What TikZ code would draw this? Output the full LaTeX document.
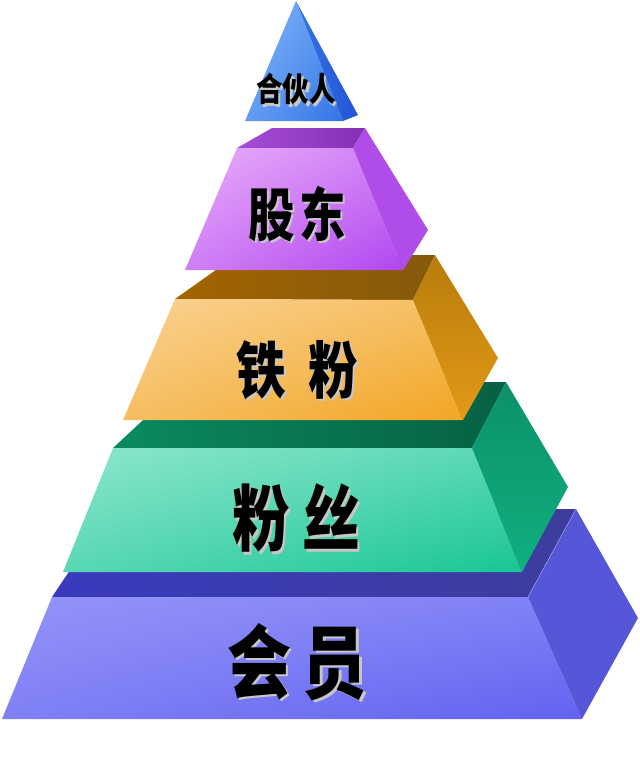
\documentclass[tikz,border=0pt]{standalone}
\usepackage{fontspec}
\usepackage{graphicx}
\usepackage{tikz}
\usetikzlibrary{shadings}
\newfontfamily\cjk{Noto Sans CJK SC}

% face colours
\definecolor{hyfront1}{HTML}{9494FA}
\definecolor{hyfront2}{HTML}{6262F0}
\definecolor{hytop}{HTML}{4C4CC4}
\definecolor{hyside}{HTML}{5656D8}
\definecolor{fsfront1}{HTML}{8EE6CE}
\definecolor{fsfront2}{HTML}{18C694}
\definecolor{fstop}{HTML}{0A8A60}
\definecolor{fsside}{HTML}{0EAA7C}
\definecolor{tffront1}{HTML}{FAD294}
\definecolor{tffront2}{HTML}{F2A624}
\definecolor{tftop}{HTML}{B07810}
\definecolor{tfside}{HTML}{D8920E}
\definecolor{gdfront1}{HTML}{E8AEFA}
\definecolor{gdfront2}{HTML}{B246F0}
\definecolor{gdtop}{HTML}{9C38D4}
\definecolor{gdside}{HTML}{B04CE8}
\definecolor{hhfront1}{HTML}{84B8FA}
\definecolor{hhfront2}{HTML}{3274E6}
\definecolor{hhside}{HTML}{2454D4}

\tikzset{
	tiertext/.style={inner sep=0pt, text=black},
	tiershadow/.style={inner sep=0pt, text=black!22}
}

\begin{document}
\begin{tikzpicture}[x=1pt,y=-1pt]
\useasboundingbox (0,0) rectangle (640,766);

% huiyuan
\shade[left color=hytop!110, right color=hytop!80!black] (52,597) -- (111,509) -- (576,509) -- (528,597) -- cycle;
\shade[upper left=hyfront1, upper right=hyfront1!60!hyfront2, lower left=hyfront1!60!hyfront2, lower right=hyfront2] (2,719) -- (52,597) -- (528,597) -- (582,719) -- cycle;
\fill[hyside] (528,597) -- (576,509) -- (638,618) -- (582,719) -- cycle;
\draw[white!50!hyside, thin] (528,597) -- (576,509);

% fensi
\shade[left color=fstop, right color=fstop!70!black] (113,448) -- (184,382) -- (506,382) -- (472,448) -- cycle;
\shade[upper left=fsfront1, upper right=fsfront1!55!fsfront2, lower left=fsfront1!55!fsfront2, lower right=fsfront2] (63,572) -- (113,448) -- (472,448) -- (522,572) -- cycle;
\shade[top color=fsside!85!black, bottom color=fsside!80!fsfront2] (472,448) -- (506,382) -- (568,487) -- (522,572) -- cycle;

% tiefen
\shade[left color=tftop!115, right color=tftop!75!black] (175,299) -- (237,255) -- (435,255) -- (413,300) -- cycle;
\shade[upper left=tffront1, upper right=tffront1!55!tffront2, lower left=tffront1!55!tffront2, lower right=tffront2] (123,420) -- (175,299) -- (413,300) -- (463,420) -- cycle;
\shade[top color=tfside!85!black, bottom color=tfside!60!tffront2] (413,300) -- (435,255) -- (498,358) -- (463,420) -- cycle;

% gudong
\shade[left color=gdtop!90, right color=gdtop!85!black] (237,148) -- (272,128) -- (365,128) -- (353,148) -- cycle;
\shade[upper left=gdfront1, upper right=gdfront1!55!gdfront2, lower left=gdfront1!55!gdfront2, lower right=gdfront2] (185,270) -- (237,148) -- (353,148) -- (403,270) -- cycle;
\fill[gdside] (353,148) -- (365,128) -- (428,230) -- (403,270) -- cycle;

% hehuoren
\shade[upper left=hhfront1, upper right=hhfront1!50!hhfront2, lower left=hhfront1!60!hhfront2, lower right=hhfront2] (245,121) -- (296,1) -- (343,121) -- cycle;
\shade[left color=hhfront2, right color=hhside] (296,1) -- (358,115) -- (343,121) -- cycle;

% labels
\foreach \nm/\x/\y/\sz/\txt in {
	huiyuan/297/662/80/{会\hspace{14pt}员},
	fensi/296/518/72/{粉\hspace{16pt}丝},
	tiefen/297/370/62/{铁\hspace{28pt}粉},
	gudong/297/214/58/{股\hspace{6pt}东},
	hehuoren/296/89/33/{合伙人}}{
	\node[tiershadow] at (\x+2.5,\y+2.5) {\cjk\bfseries\fontsize{\sz}{\sz}\selectfont\scalebox{0.8}[1]{\txt}};
	\node[tiertext] (\nm) at (\x,\y) {\cjk\bfseries\fontsize{\sz}{\sz}\selectfont\scalebox{0.8}[1]{\txt}};
}

\end{tikzpicture}
\end{document}
